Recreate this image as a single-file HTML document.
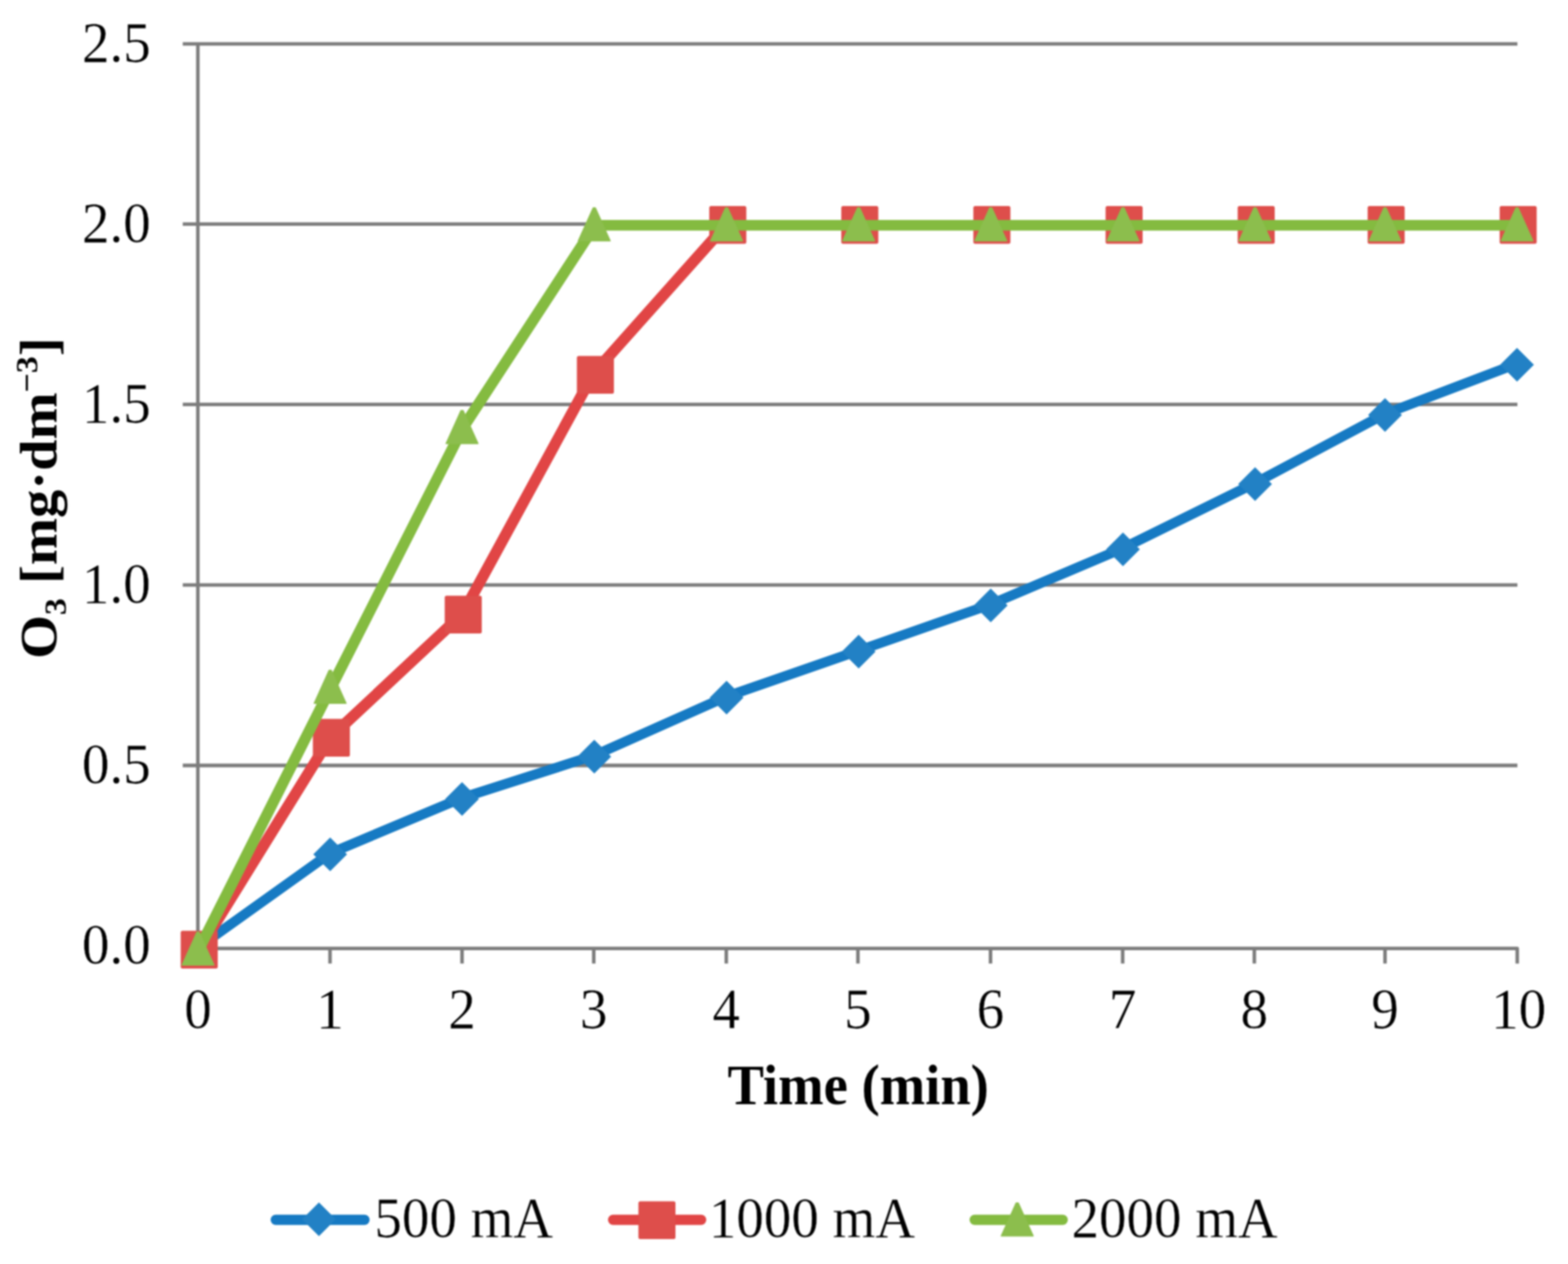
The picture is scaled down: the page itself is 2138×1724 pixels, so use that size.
<!DOCTYPE html>
<html lang="en"><head><meta charset="utf-8"><title>O3 concentration vs time</title>
<style>html,body{margin:0;padding:0;background:#fff}body{width:2138px;height:1724px;overflow:hidden}svg{display:block;filter:blur(0.9px)}text{font-family:"Liberation Serif", "Times New Roman", serif;fill:#000}</style>
</head><body>
<svg width="2138" height="1724" viewBox="0 0 2138 1724">
<rect x="-10" y="-10" width="2158" height="1744" fill="#fff"/>
<g stroke="#7c7c7c" stroke-width="4.8" fill="none">
<line x1="249.2" y1="59.8" x2="2069.0" y2="59.8"/>
<line x1="249.2" y1="305.6" x2="2069.0" y2="305.6"/>
<line x1="249.2" y1="551.6" x2="2069.0" y2="551.6"/>
<line x1="249.2" y1="797.9" x2="2069.0" y2="797.9"/>
<line x1="249.2" y1="1044.0" x2="2069.0" y2="1044.0"/>
<line x1="269.8" y1="59.8" x2="269.8" y2="1293.7"/>
<path stroke-linejoin="round" d="M249.2 1293.7H2068.8V1314.2"/>
<line x1="270" y1="1293.7" x2="270" y2="1314.2"/>
<line x1="450" y1="1293.7" x2="450" y2="1314.2"/>
<line x1="630" y1="1293.7" x2="630" y2="1314.2"/>
<line x1="809.6" y1="1293.7" x2="809.6" y2="1314.2"/>
<line x1="990.3" y1="1293.7" x2="990.3" y2="1314.2"/>
<line x1="1169.8" y1="1293.7" x2="1169.8" y2="1314.2"/>
<line x1="1350.6" y1="1293.7" x2="1350.6" y2="1314.2"/>
<line x1="1530.8" y1="1293.7" x2="1530.8" y2="1314.2"/>
<line x1="1710.3" y1="1293.7" x2="1710.3" y2="1314.2"/>
<line x1="1888.5" y1="1293.7" x2="1888.5" y2="1314.2"/>
</g>
<text transform="translate(205.4 83.9) scale(1.0 1.05)" font-size="75" text-anchor="end" stroke="#fff" stroke-width="0.4">2.5</text>
<text transform="translate(205.4 329.7) scale(1.0 1.05)" font-size="75" text-anchor="end" stroke="#fff" stroke-width="0.4">2.0</text>
<text transform="translate(205.4 575.7) scale(1.0 1.05)" font-size="75" text-anchor="end" stroke="#fff" stroke-width="0.4">1.5</text>
<text transform="translate(205.4 822.0) scale(1.0 1.05)" font-size="75" text-anchor="end" stroke="#fff" stroke-width="0.4">1.0</text>
<text transform="translate(205.4 1068.1) scale(1.0 1.05)" font-size="75" text-anchor="end" stroke="#fff" stroke-width="0.4">0.5</text>
<text transform="translate(205.4 1314.1) scale(1.0 1.05)" font-size="75" text-anchor="end" stroke="#fff" stroke-width="0.4">0.0</text>
<text transform="translate(270.0 1401.5) scale(1.0 1.05)" font-size="75" text-anchor="middle" stroke="#fff" stroke-width="0.4">0</text>
<text transform="translate(450.0 1401.5) scale(1.0 1.05)" font-size="75" text-anchor="middle" stroke="#fff" stroke-width="0.4">1</text>
<text transform="translate(630.0 1401.5) scale(1.0 1.05)" font-size="75" text-anchor="middle" stroke="#fff" stroke-width="0.4">2</text>
<text transform="translate(809.6 1401.5) scale(1.0 1.05)" font-size="75" text-anchor="middle" stroke="#fff" stroke-width="0.4">3</text>
<text transform="translate(990.3 1401.5) scale(1.0 1.05)" font-size="75" text-anchor="middle" stroke="#fff" stroke-width="0.4">4</text>
<text transform="translate(1169.8 1401.5) scale(1.0 1.05)" font-size="75" text-anchor="middle" stroke="#fff" stroke-width="0.4">5</text>
<text transform="translate(1350.6 1401.5) scale(1.0 1.05)" font-size="75" text-anchor="middle" stroke="#fff" stroke-width="0.4">6</text>
<text transform="translate(1530.8 1401.5) scale(1.0 1.05)" font-size="75" text-anchor="middle" stroke="#fff" stroke-width="0.4">7</text>
<text transform="translate(1710.3 1401.5) scale(1.0 1.05)" font-size="75" text-anchor="middle" stroke="#fff" stroke-width="0.4">8</text>
<text transform="translate(1888.5 1401.5) scale(1.0 1.05)" font-size="75" text-anchor="middle" stroke="#fff" stroke-width="0.4">9</text>
<text transform="translate(2070.8 1401.5) scale(1.0 1.05)" font-size="75" text-anchor="middle" stroke="#fff" stroke-width="0.4">10</text>
<text transform="translate(1170.2 1506.3) scale(0.993 1.05)" font-size="75" text-anchor="middle" font-weight="bold">Time (min)</text>
<text transform="translate(76.5 679.5) scale(0.95 1.028) rotate(-90)" font-size="75" font-weight="bold" text-anchor="middle">O<tspan font-size="45" dy="14">3</tspan><tspan dy="-14"> [mg·dm</tspan><tspan font-size="45" dy="-27">−3</tspan><tspan dy="27">]</tspan></text>
<polyline fill="none" stroke-width="13.6" stroke-linejoin="round" stroke-linecap="round" stroke="#167ac3" points="270.0,1292.5 450.2,1163.7 630.0,1088.3 810.3,1030.4 990.7,950.0 1170.8,887.3 1350.9,824.3 1531.2,747.7 1711.3,658.8 1888.5,564.5 2068.5,496.0"/>
<g fill="#2281c5"><path d="M270.0 1271.0L293.0 1294.0L270.0 1317.0L247.0 1294.0Z"/><path d="M450.2 1142.2L473.2 1165.2L450.2 1188.2L427.2 1165.2Z"/><path d="M630.0 1066.8L653.0 1089.8L630.0 1112.8L607.0 1089.8Z"/><path d="M810.3 1008.9L833.3 1031.9L810.3 1054.9L787.3 1031.9Z"/><path d="M990.7 928.5L1013.7 951.5L990.7 974.5L967.7 951.5Z"/><path d="M1170.8 865.8L1193.8 888.8L1170.8 911.8L1147.8 888.8Z"/><path d="M1350.9 802.8L1373.9 825.8L1350.9 848.8L1327.9 825.8Z"/><path d="M1531.2 726.2L1554.2 749.2L1531.2 772.2L1508.2 749.2Z"/><path d="M1711.3 637.3L1734.3 660.3L1711.3 683.3L1688.3 660.3Z"/><path d="M1888.5 543.0L1911.5 566.0L1888.5 589.0L1865.5 566.0Z"/><path d="M2068.5 474.5L2091.5 497.5L2068.5 520.5L2045.5 497.5Z"/></g>
<polyline fill="none" stroke-width="13.0" stroke-linejoin="round" stroke-linecap="round" stroke="#e14545" points="992.3,306.9 1172.4,306.9 1352.5,306.9 1532.8,306.9 1712.9,306.9 1890.1,306.9 2070.1,306.9"/>
<polyline fill="none" stroke-width="15.2" stroke-linejoin="round" stroke-linecap="round" stroke="#e14545" points="271.6,1295.3 450.8,1005.4 630.6,837.4 809.4,509.2 989.8,306.9"/>
<g fill="#de4e4b"><rect x="246.4" y="1269.5" width="50.5" height="51.5" rx="2.5"/><rect x="426.6" y="980.6" width="50.5" height="51.5" rx="2.5"/><rect x="606.4" y="812.6" width="50.5" height="51.5" rx="2.5"/><rect x="786.6" y="485.4" width="50.5" height="51.5" rx="2.5"/><rect x="967.1" y="281.1" width="50.5" height="51.5" rx="2.5"/><rect x="1147.1" y="281.1" width="50.5" height="51.5" rx="2.5"/><rect x="1327.2" y="281.1" width="50.5" height="51.5" rx="2.5"/><rect x="1507.5" y="281.1" width="50.5" height="51.5" rx="2.5"/><rect x="1687.6" y="281.1" width="50.5" height="51.5" rx="2.5"/><rect x="1864.8" y="281.1" width="50.5" height="51.5" rx="2.5"/><rect x="2044.8" y="281.1" width="50.5" height="51.5" rx="2.5"/></g>
<polyline fill="none" stroke-width="14.4" stroke-linejoin="round" stroke-linecap="round" stroke="#84bb40" points="810.3,307.2 990.7,307.2 1170.8,307.2 1350.9,307.2 1531.2,307.2 1711.3,307.2 1888.5,307.2 2068.5,307.2"/>
<polyline fill="none" stroke-width="15.0" stroke-linejoin="round" stroke-linecap="round" stroke="#84bb40" points="271.2,1294.8 451.4,937.8 631.2,583.6 811.5,307.2"/>
<g fill="#8cbe4d" stroke="#8cbe4d" stroke-width="1.5" stroke-linejoin="round"><path d="M268.5 1271.3L271.5 1271.3L291.8 1316.3L248.2 1316.3Z"/><path d="M448.7 914.3L451.7 914.3L471.9 959.3L428.4 959.3Z"/><path d="M628.5 560.1L631.5 560.1L651.8 605.1L608.2 605.1Z"/><path d="M808.8 283.5L811.8 283.5L832.0 328.5L788.5 328.5Z"/><path d="M989.2 283.5L992.2 283.5L1012.5 328.5L969.0 328.5Z"/><path d="M1169.3 283.5L1172.3 283.5L1192.5 328.5L1149.0 328.5Z"/><path d="M1349.4 283.5L1352.4 283.5L1372.7 328.5L1329.2 328.5Z"/><path d="M1529.7 283.5L1532.7 283.5L1553.0 328.5L1509.5 328.5Z"/><path d="M1709.8 283.5L1712.8 283.5L1733.0 328.5L1689.5 328.5Z"/><path d="M1887.0 283.5L1890.0 283.5L1910.2 328.5L1866.8 328.5Z"/><path d="M2067.0 283.5L2070.0 283.5L2090.2 328.5L2046.8 328.5Z"/></g>
<g fill="none" stroke-width="14" stroke-linecap="round">
<line stroke="#167ac3" x1="376" y1="1663.8" x2="497" y2="1663.8"/>
<line stroke="#e14545" x1="836" y1="1663.8" x2="956" y2="1663.8"/>
<line stroke="#84bb40" x1="1329" y1="1663.8" x2="1449" y2="1663.8"/>
</g>
<g fill="#2281c5"><path d="M434.9 1640.1L457.9 1663.1L434.9 1686.1L411.9 1663.1Z"/></g>
<g fill="#de4e4b"><rect x="870.5" y="1638.5" width="50.5" height="51.5" rx="2.5"/></g>
<g fill="#8cbe4d" stroke="#8cbe4d" stroke-width="1.5" stroke-linejoin="round"><path d="M1385.5 1640.8L1388.5 1640.8L1408.8 1685.8L1365.2 1685.8Z"/></g>
<text transform="translate(510.5 1687.2) scale(1.0 1.05)" font-size="75" text-anchor="start" stroke="#fff" stroke-width="0.4">500 mA</text>
<text transform="translate(966.5 1687.2) scale(1.0 1.05)" font-size="75" text-anchor="start" stroke="#fff" stroke-width="0.4">1000 mA</text>
<text transform="translate(1461 1687.2) scale(1.0 1.05)" font-size="75" text-anchor="start" stroke="#fff" stroke-width="0.4">2000 mA</text>
</svg>
</body></html>
